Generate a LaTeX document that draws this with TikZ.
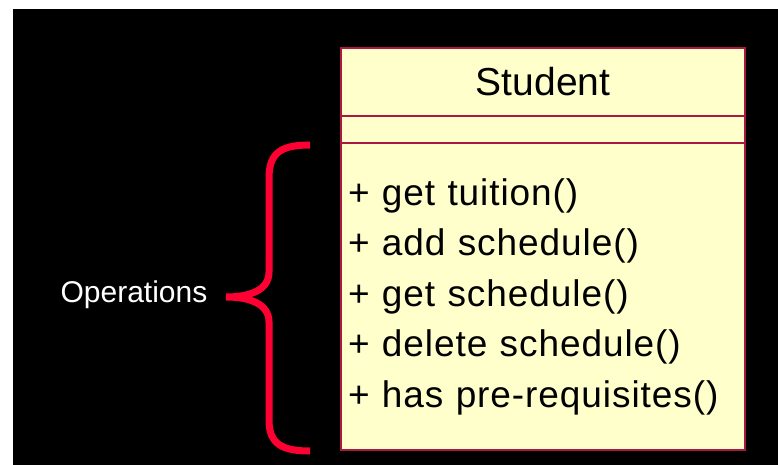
\documentclass[tikz,border=0pt]{standalone}
\usepackage{fontspec}
\setmainfont{Liberation Sans}
\usetikzlibrary{positioning}
\definecolor{classfill}{RGB}{255,255,204}
\definecolor{classdraw}{RGB}{170,25,65}
\definecolor{bracered}{RGB}{255,0,51}
\newlength{\classwidth}
\setlength{\classwidth}{404pt}
\tikzset{
    classpart/.style={draw=classdraw, fill=classfill, line width=2pt,
        minimum width=\classwidth, outer sep=0pt, inner sep=0pt},
    opslist/.style={classpart, align=left, text width=390pt, inner xsep=7pt,
        font=\fontsize{37}{50.5}\selectfont\addfontfeatures{LetterSpace=2.5}},
    bracepath/.style={draw=bracered, line width=7pt},
}

\begin{document}
\begin{tikzpicture}[x=1pt, y=-1pt]
    \useasboundingbox (0,0) rectangle (778,465);
    \fill[black] (13,9) rectangle (778,465);

    \node[classpart, minimum height=68pt, font=\fontsize{39}{47}\selectfont] (classname) at (543,82) {Student};
    \node[classpart, minimum height=27pt, below=0pt of classname] (attributes) {};
    \node[opslist, minimum height=307pt, below=0pt of attributes] (operations) {%
        + get tuition()\\
        + add schedule()\\
        + get schedule()\\
        + delete schedule()\\
        + has pre-requisites()};

    \node[text=white, font=\fontsize{30}{36}\selectfont] (oplabel) at (134,295) {Operations};

    % brace round the operations
    \coordinate (bracetop) at (310,145);
    \coordinate (bracetip) at (226,297);
    \coordinate (bracebot) at (310,451);
    \draw[bracepath] (bracetop) .. controls (282,145) and (269,152) .. (269,178)
        -- (269,272) .. controls (269,290) and (250,297) .. (bracetip)
        .. controls (250,297) and (269,304) .. (269,322)
        -- (269,420) .. controls (269,444) and (282,451) .. (bracebot);
\end{tikzpicture}
\end{document}
